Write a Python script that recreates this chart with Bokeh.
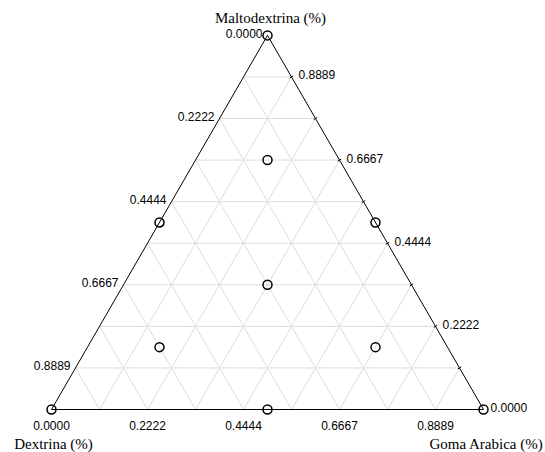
import numpy as np
from bokeh.plotting import figure
from bokeh.models import ColumnDataSource, Range1d
from bokeh.core.properties import value
from bokeh.embed import file_html
from bokeh.resources import INLINE

# Mixture design points (fractions of each component)
maltodextrina = [1.0, 0.0, 0.0, 0.5, 0.5, 0.0, 1/3, 2/3, 1/6, 1/6]
dextrina      = [0.0, 1.0, 0.0, 0.5, 0.0, 0.5, 1/3, 1/6, 2/3, 1/6]
goma_arabica  = [0.0, 0.0, 1.0, 0.0, 0.5, 0.5, 1/3, 1/6, 1/6, 2/3]

# Axis labelling
tick_values = [0.0, 2/9, 4/9, 6/9, 8/9]
tick_labels = ["%.4f" % v for v in tick_values]
n_div = 9
axis_titles = ["Maltodextrina (%)", "Dextrina (%)", "Goma Arabica (%)"]

H = np.sqrt(3) / 2


def to_xy(m, d, g):
    m = np.asarray(m, dtype=float)
    g = np.asarray(g, dtype=float)
    return g + m / 2, m * H


# plot frame: unit triangle, 432 px on a side
scale = 432.0
x0, y0 = 51.0, 409.0
W, Hgt = 545, 452
p = figure(width=W, height=Hgt, output_backend="svg", toolbar_location=None,
           min_border=0, x_range=Range1d(-x0 / scale, (W - x0) / scale),
           y_range=Range1d((y0 - Hgt) / scale, y0 / scale))
p.axis.visible = False
p.grid.visible = False
p.outline_line_color = None
p.background_fill_color = "white"
p.border_fill_color = "white"

# grid lines
gx, gy = [], []
for k in range(1, n_div):
    f = k / n_div
    for a, b in [((f, 1 - f, 0), (f, 0, 1 - f)),
                 ((1 - f, f, 0), (0, f, 1 - f)),
                 ((1 - f, 0, f), (0, 1 - f, f))]:
        xa, ya = to_xy(a[0], a[1], a[2])
        xb, yb = to_xy(b[0], b[1], b[2])
        gx.append([float(xa), float(xb)])
        gy.append([float(ya), float(yb)])
p.multi_line(gx, gy, line_color="#dcdcdc", line_width=1)

# triangle outline
tx, ty = to_xy([0, 1, 0, 0], [1, 0, 0, 1], [0, 0, 1, 0])
p.line(tx, ty, line_color="black", line_width=1)

# ticks on the right edge
rk = np.arange(1, n_div) / n_div
rx, ry = to_xy(rk, np.zeros_like(rk), 1 - rk)
nx, ny = H, 0.5
tl = 2 / scale
p.segment(rx - nx * tl, ry - ny * tl, rx + nx * tl, ry + ny * tl,
          line_color="black", line_width=1)

tv = np.array(tick_values)
font = value("Liberation Sans")
fs = "12px"
# left edge (Dextrina)
lx, ly = to_xy(1 - tv, tv, np.zeros_like(tv))
p.text(lx, ly, text=tick_labels, text_font=font, text_font_size=fs,
       text_align="right", text_baseline="middle", x_offset=-5, y_offset=-2,
       text_color="black")
# right edge (Maltodextrina)
rx2, ry2 = to_xy(tv, np.zeros_like(tv), 1 - tv)
p.text(rx2, ry2, text=tick_labels, text_font=font, text_font_size=fs,
       text_align="left", text_baseline="middle", x_offset=7, y_offset=-2,
       text_color="black")
# bottom edge (Goma Arabica)
bx, by = to_xy(np.zeros_like(tv), 1 - tv, tv)
p.text(bx, by, text=tick_labels, text_font=font, text_font_size=fs,
       text_align="center", text_baseline="middle", x_offset=0, y_offset=16,
       text_color="black")

# component titles at the vertices
vx, vy = to_xy([1, 0, 0], [0, 1, 0], [0, 0, 1])
p.text(vx, vy, text=axis_titles, text_font=value("Liberation Serif"),
       text_font_size="15px", text_align="center", text_baseline="middle",
       x_offset=[3, 2, 3], y_offset=[-17, 34, 34], text_color="black")

# design points
px, py = to_xy(maltodextrina, dextrina, goma_arabica)
p.scatter(px, py, marker="circle", size=9, fill_color=None,
          line_color="black", line_width=1.5)

open("out.html", "w").write(file_html(p, INLINE))
